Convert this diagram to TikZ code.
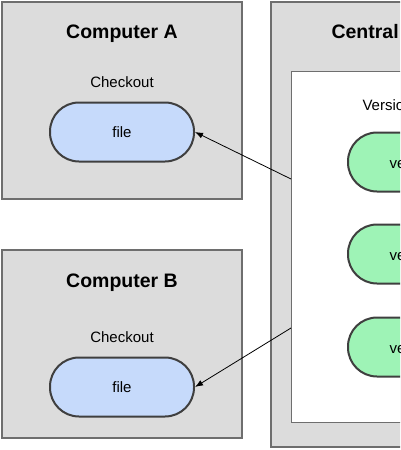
\documentclass[tikz,border=0pt]{standalone}
\usepackage{fontspec}
\setmainfont{Liberation Sans}
\usetikzlibrary{arrows.meta}

\definecolor{boxgray}{HTML}{DCDCDC}
\definecolor{boxline}{HTML}{6E6E6E}
\definecolor{pillline}{HTML}{3F3F3F}
\definecolor{fileblue}{HTML}{C6DAFB}
\definecolor{versgreen}{HTML}{9EF3B6}

\begin{document}
\begin{tikzpicture}[x=1pt,y=-1pt,
  machine/.style={draw=boxline,fill=boxgray,line width=1.2pt},
  pill/.style={draw=pillline,line width=2pt,rounded corners=29pt,
    minimum width=144pt,minimum height=59pt,inner sep=0pt,
    font=\fontsize{15}{18}\selectfont},
  heading/.style={font=\fontsize{19.5}{23}\selectfont\bfseries,anchor=base},
  smalltext/.style={font=\fontsize{15}{18}\selectfont,anchor=base}]
\useasboundingbox (0,0) rectangle (400,450);
\clip (0,0) rectangle (400,450);

% computer A
\draw[machine] (2,2) rectangle (242,199);
\node[heading] (titleA) at (122,38) {Computer A};
\node[smalltext] (coA) at (122,87) {Checkout};
\node[pill,fill=fileblue] (fileA) at (122,132) {file};

% computer B
\draw[machine] (2,250) rectangle (242,438);
\node[heading] (titleB) at (122,287) {Computer B};
\node[smalltext] (coB) at (122,342) {Checkout};
\node[pill,fill=fileblue] (fileB) at (122,387) {file};

% central computer and its database
\draw[machine] (271,2) rectangle (420,447);
\draw[draw=boxline,fill=white,line width=1pt] (291,71) rectangle (420,422);
\node[heading,anchor=base west] (titleC) at (328,38) {Central};
\node[smalltext,anchor=base west] (db) at (359,110) {Versio};

% the versions
\foreach \y/\n in {162/1,254/2,347/3} {
  \node[pill,fill=versgreen,anchor=west] (v\n) at (347,\y) {};
  \node[smalltext,anchor=base west] (vt\n) at (386,\y+6) {ve};
}

% checkouts
\coordinate (outA) at (291,179);
\coordinate (outB) at (291,328);
\draw[-{Latex[length=8pt,width=6pt]},line width=0.8pt] (outA) -- (fileA.east);
\draw[-{Latex[length=8pt,width=6pt]},line width=0.8pt] (outB) -- (fileB.east);

\end{tikzpicture}
\end{document}
